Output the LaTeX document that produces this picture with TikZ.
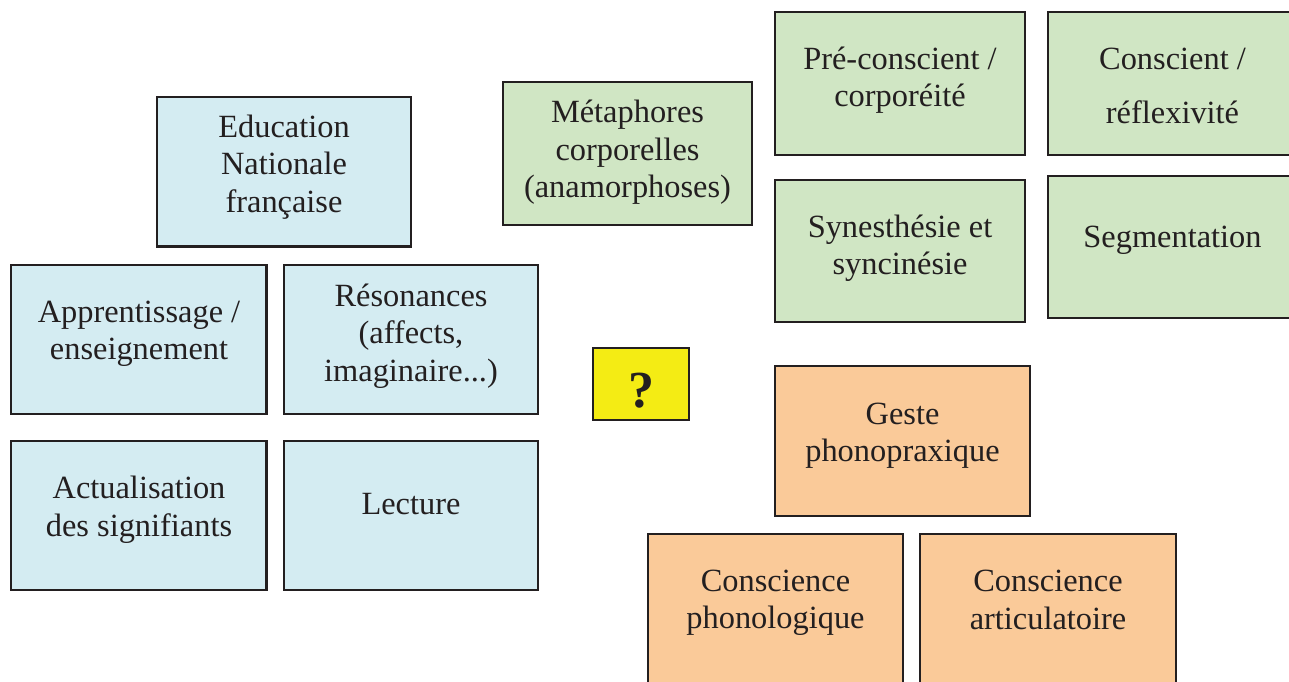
\documentclass[tikz,border=0pt]{standalone}
\usepackage{fontspec}
\setmainfont{Liberation Serif}
\usetikzlibrary{fit}
\definecolor{eduBlue}{RGB}{212,236,242}
\definecolor{bodyGreen}{RGB}{208,230,196}
\definecolor{gestOrange}{RGB}{250,202,153}
\definecolor{askYellow}{RGB}{244,236,20}
\definecolor{rim}{RGB}{35,31,32}
\begin{document}
\begin{tikzpicture}[x=0.5pt,y=-0.5pt]
    \tikzstyle{every node}+=[inner sep=0pt]
    \tikzstyle{card}=[draw=rim, line width=1.25pt, rectangle]
    \tikzstyle{bluecard}=[card, fill=eduBlue]
    \tikzstyle{greencard}=[card, fill=bodyGreen]
    \tikzstyle{orangecard}=[card, fill=gestOrange]
    \tikzstyle{yellowcard}=[card, fill=askYellow]
    \tikzstyle{words}=[align=center, text=rim, font=\fontsize{16.2}{18.75}\selectfont]
    \useasboundingbox (0,0) rectangle (1289,681);
    % blue side
    \node [bluecard, fit={(157,97) (411,246.5)}] (edu) {};
    \node [words] (edu text) at (284,167) {Education\\Nationale\\française};
    \node [bluecard, fit={(11,265) (266.5,414)}] (appr) {};
    \node [words] (appr text) at (139,334) {Apprentissage /\\enseignement};
    \node [bluecard, fit={(284,265) (538,414)}] (reso) {};
    \node [words] (reso text) at (411,336) {Résonances\\(affects,\\imaginaire...)};
    \node [bluecard, fit={(11,441) (266.5,590)}] (actu) {};
    \node [words] (actu text) at (139,509.5) {Actualisation\\des signifiants};
    \node [bluecard, fit={(284,441) (538,590)}] (lect) {};
    \node [words] (lect text) at (411,504) {Lecture};
    % green side
    \node [greencard, fit={(503,82) (752,225)}] (meta) {};
    \node [words] (meta text) at (627.5,152.5) {Métaphores\\corporelles\\(anamorphoses)};
    \node [greencard, fit={(775,12) (1025,155)}] (pre) {};
    \node [words] (pre text) at (900,80) {Pré-conscient /\\corporéité};
    \node [greencard, fit={(1048,12) (1298,155)}] (consc) {};
    \node [words] (consc text) at (1172.5,86) {Conscient /\\[8.25pt]réflexivité};
    \node [greencard, fit={(775,180) (1025,322)}] (syne) {};
    \node [words] (syne text) at (900,248) {Synesthésie et\\syncinésie};
    \node [greencard, fit={(1048,176) (1298,318)}] (segm) {};
    \node [words] (segm text) at (1172.5,240) {Segmentation};
    % question
    \node [yellowcard, fit={(593,348) (689,420)}] (ques) {};
    \node [words, font=\fontsize{26}{30}\selectfont\bfseries] (ques text) at (641,391) {?};
    % orange side
    \node [orangecard, fit={(775,366) (1030,516)}] (geste) {};
    \node [words] (geste text) at (902.5,435.5) {Geste\\phonopraxique};
    \node [orangecard, fit={(648,534) (903,700)}] (phono) {};
    \node [words] (phono text) at (775.5,603) {Conscience\\phonologique};
    \node [orangecard, fit={(920,534) (1176,700)}] (artic) {};
    \node [words] (artic text) at (1048,600) {Conscience\\articulatoire};
\end{tikzpicture}
\end{document}
